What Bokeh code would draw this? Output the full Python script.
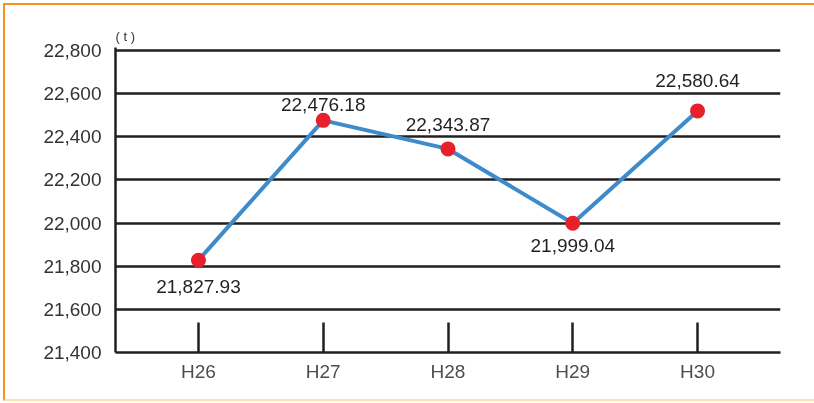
from bokeh.plotting import figure
from bokeh.models import ColumnDataSource, FixedTicker, Range1d
from bokeh.core.properties import value
from bokeh.embed import file_html
from bokeh.resources import INLINE

# ---- data ----
years = ["H26", "H27", "H28", "H29", "H30"]
amounts = [21827.93, 22476.18, 22343.87, 21999.04, 22520.0]
amount_labels = ["21,827.93", "22,476.18", "22,343.87", "21,999.04", "22,580.64"]
y_ticks = [21400, 21600, 21800, 22000, 22200, 22400, 22600, 22800]
y_tick_labels = ["21,400", "21,600", "21,800", "22,000", "22,200", "22,400", "22,600", "22,800"]
unit_label = "( t )"

# ---- styling ----
label_offsets = [26, -16, -24, 22, -30]
FONT = "Liberation Sans"
DARK = "#231f20"

xs = list(range(len(years)))
src = ColumnDataSource(dict(x=xs, y=amounts, lab=amount_labels, off=label_offsets))

p = figure(output_backend="svg", toolbar_location=None,
           frame_width=665, frame_height=305,
           x_range=Range1d(-0.665, 4.665), y_range=Range1d(21400, 22814),
           min_border_left=110, min_border_right=34, min_border_top=42, min_border_bottom=47)
p.styles = {"position": "fixed", "left": "3px", "top": "3px",
            "border-top": "2px solid #f7941d",
            "border-left": "2px solid #f7941d",
            "border-bottom": "2px solid #fde0b2"}

p.title.text = unit_label
p.title.align = "left"
p.title.offset = 0
p.title.standoff = 7
p.title.text_font = FONT
p.title.text_font_size = "13px"
p.title.text_font_style = "normal"
p.title.text_color = "#333333"

p.outline_line_color = None
p.background_fill_color = "white"
p.border_fill_color = "white"

# grid
p.xgrid.grid_line_color = None
p.ygrid.ticker = FixedTicker(ticks=y_ticks)
p.ygrid.grid_line_color = DARK
p.ygrid.grid_line_width = 2.3

# y axis
p.yaxis.ticker = FixedTicker(ticks=y_ticks)
p.yaxis.major_label_overrides = {t: l for t, l in zip(y_ticks, y_tick_labels)}
p.yaxis.axis_line_color = DARK
p.yaxis.axis_line_width = 2.5
p.yaxis.major_tick_line_color = None
p.yaxis.minor_tick_line_color = None
p.yaxis.major_label_standoff = 8
p.yaxis.major_label_text_font = FONT
p.yaxis.major_label_text_font_size = "19px"
p.yaxis.major_label_text_color = "#333333"

# x axis
p.xaxis.ticker = FixedTicker(ticks=xs)
p.xaxis.major_label_overrides = {i: y for i, y in zip(xs, years)}
p.xaxis.axis_line_color = DARK
p.xaxis.axis_line_width = 2.5
p.xaxis.major_tick_in = 30
p.xaxis.major_tick_out = 0
p.xaxis.major_tick_line_color = DARK
p.xaxis.major_tick_line_width = 2.5
p.xaxis.minor_tick_line_color = None
p.xaxis.major_label_standoff = 8
p.xaxis.major_label_text_font = FONT
p.xaxis.major_label_text_font_size = "19px"
p.xaxis.major_label_text_color = "#4d4d4d"

# series
p.line("x", "y", source=src, line_color="#3d8bcb", line_width=4)
p.scatter("x", "y", source=src, size=15, fill_color="#e8202a", line_color=None)
p.text("x", "y", text="lab", source=src, y_offset="off",
       text_align="center", text_baseline="middle",
       text_font=value(FONT), text_font_size="19px", text_color=DARK)

open("out.html", "w").write(file_html(p, INLINE))
